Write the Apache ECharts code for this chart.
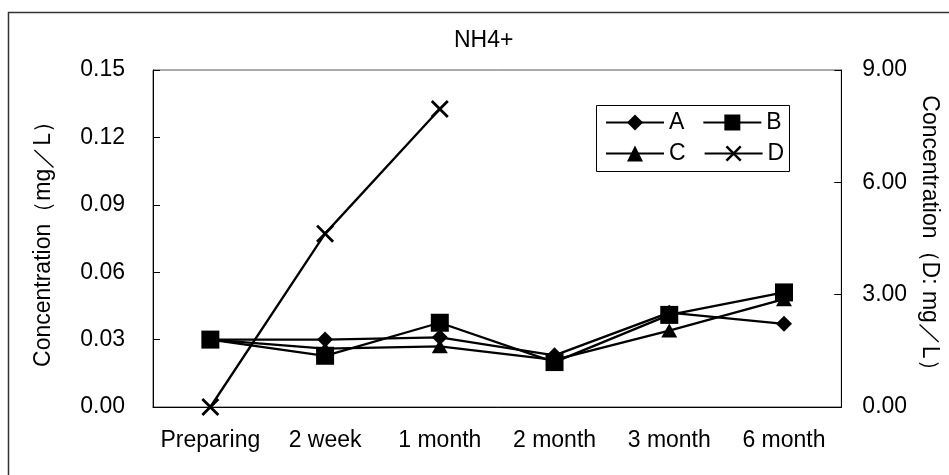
<!DOCTYPE html>
<html>
<head>
<meta charset="utf-8">
<script src="https://cdn.jsdelivr.net/npm/echarts@6/dist/echarts.min.js"></script>
<style>
  html, body { margin: 0; padding: 0; background: #fff; }
  #chart { width: 949px; height: 475px; }
</style>
</head>
<body>
<div id="chart"></div>
<script>
// Sampling points
const categories = ['Preparing', '2 week', '1 month', '2 month', '3 month', '6 month'];

// NH4+ concentration (mg/L), left axis
const seriesA = [0.030, 0.030, 0.031, 0.023, 0.042, 0.037];
const seriesB = [0.030, 0.0228, 0.0375, 0.020, 0.041, 0.051];
const seriesC = [0.030, 0.026, 0.027, 0.021, 0.034, 0.048];
// D is plotted on its own scale (right axis, mg/L)
const seriesD = [0, 4.63, 7.96, null, null, null];

// Axis ranges
const leftAxisRange = { min: 0, max: 0.15, interval: 0.03 };
const rightAxisRange = { min: 0, max: 9, interval: 3 };

const FONT = 'Liberation Sans, Arial, sans-serif';
const FS = 23;
const INK = '#000';

// Filled "x" glyph for the D markers
const crossSymbol = 'path://M0,1.1L1.1,0L10,8.9L8.9,10ZM8.9,0L10,1.1L1.1,10L0,8.9Z';

function lineSeries(name, data, symbol, size, yAxisIndex) {
  return {
    name: name,
    type: 'line',
    yAxisIndex: yAxisIndex,
    data: data,
    symbol: symbol,
    symbolSize: size,
    showAllSymbol: true,
    connectNulls: false,
    lineStyle: { color: INK, width: 2.3 },
    itemStyle: { color: INK, opacity: 1 },
    emphasis: { disabled: true }
  };
}

const chart = echarts.init(document.getElementById('chart'), null, { renderer: 'canvas' });

const legendText = { fontFamily: FONT, fontSize: FS, color: INK };

chart.setOption({
  animation: false,
  backgroundColor: '#fff',
  title: {
    text: 'NH4+',
    left: 454,
    top: 29,
    padding: 0,
    textStyle: { fontFamily: FONT, fontSize: FS, fontWeight: 'normal', color: INK }
  },
  grid: {
    left: 153,
    right: 104,
    top: 70,
    bottom: 68,
    show: true,
    borderColor: '#555',
    borderWidth: 1,
    backgroundColor: 'transparent'
  },
  legend: [
    {
      data: ['A', 'B'],
      left: 605, top: 111,
      padding: 0,
      itemWidth: 58, itemHeight: 20, itemGap: 18,
      selectedMode: false,
      textStyle: legendText
    },
    {
      data: ['C', 'D'],
      left: 605, top: 142,
      padding: 0,
      itemWidth: 58, itemHeight: 20, itemGap: 18,
      selectedMode: false,
      textStyle: legendText
    }
  ],
  xAxis: {
    type: 'category',
    data: categories,
    boundaryGap: true,
    axisLine: { lineStyle: { color: INK, width: 1 } },
    axisTick: { inside: true, length: 7, interval: 0, lineStyle: { color: INK } },
    axisLabel: { interval: 0, margin: 22, fontFamily: FONT, fontSize: FS, color: INK },
    splitLine: { show: false }
  },
  yAxis: [
    {
      type: 'value',
      position: 'left',
      min: leftAxisRange.min,
      max: leftAxisRange.max,
      interval: leftAxisRange.interval,
      name: 'Concentration（mg／L）',
      nameLocation: 'middle',
      nameGap: 98,
      nameTextStyle: { fontFamily: FONT, fontSize: FS, color: INK },
      axisLine: { show: true, lineStyle: { color: INK, width: 1 } },
      axisTick: { show: true, inside: true, length: 7, lineStyle: { color: INK } },
      axisLabel: {
        margin: 28, fontFamily: FONT, fontSize: FS, color: INK,
        formatter: v => v.toFixed(2)
      },
      splitLine: { show: false }
    },
    {
      type: 'value',
      position: 'right',
      min: rightAxisRange.min,
      max: rightAxisRange.max,
      interval: rightAxisRange.interval,
      name: 'Concentration（D: mg／L）',
      nameLocation: 'middle',
      nameRotate: -90,
      nameGap: 72,
      nameTextStyle: { fontFamily: FONT, fontSize: FS, color: INK },
      axisLine: { show: true, lineStyle: { color: INK, width: 1 } },
      axisTick: { show: true, inside: true, length: 7, lineStyle: { color: INK } },
      axisLabel: {
        margin: 21, fontFamily: FONT, fontSize: FS, color: INK,
        formatter: v => v.toFixed(2)
      },
      splitLine: { show: false }
    }
  ],
  series: [
    lineSeries('A', seriesA, 'diamond', 16, 0),
    lineSeries('B', seriesB, 'rect', 18, 0),
    lineSeries('C', seriesC, 'triangle', [16, 14], 0),
    lineSeries('D', seriesD, crossSymbol, 18, 1)
  ],
  graphic: [
    // outer chart frame
    {
      type: 'rect',
      silent: true,
      z: -1,
      shape: { x: 8.5, y: 12.5, width: 1000, height: 1000 },
      style: { fill: 'none', stroke: '#333', lineWidth: 1.5 }
    },
    // legend frame
    {
      type: 'rect',
      silent: true,
      z: 5,
      shape: { x: 596.5, y: 105.5, width: 193, height: 66 },
      style: { fill: 'none', stroke: INK, lineWidth: 1 }
    }
  ]
});
</script>
</body>
</html>
